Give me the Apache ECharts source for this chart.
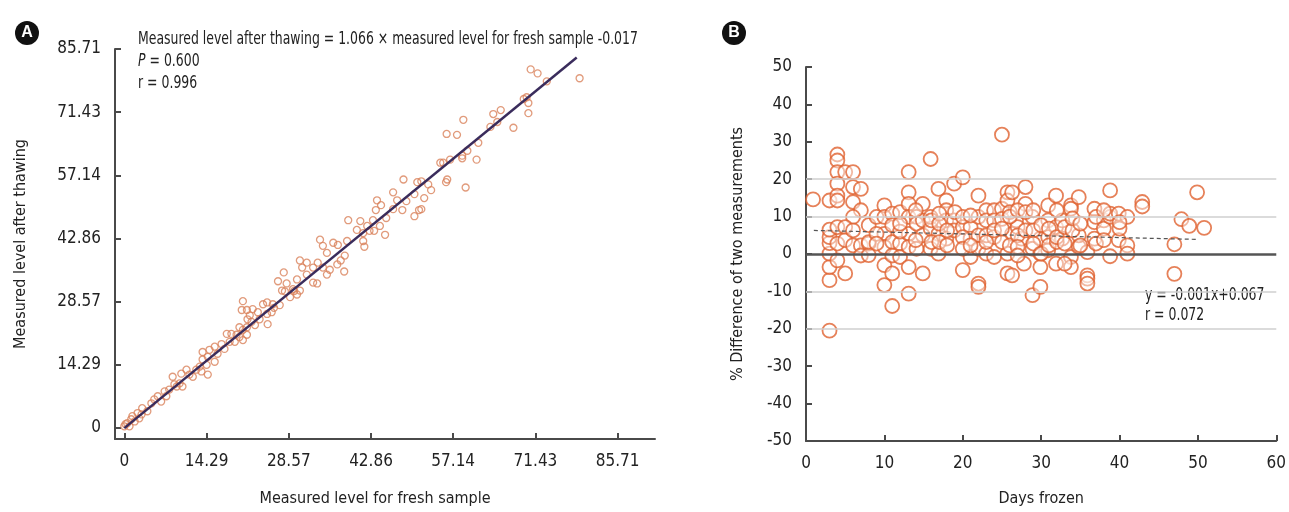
<!DOCTYPE html>
<html><head><meta charset="utf-8">
<script src="https://cdn.jsdelivr.net/npm/echarts@6/dist/echarts.min.js"></script>
<style>html,body{margin:0;padding:0;background:#fff}#c{width:1289px;height:512px}</style>
</head><body><div id="c"></div>
<script>
// Panel A: measured level for fresh sample (x) vs after thawing (y)
const aFresh = [70.6,71.8,73.4,79.1,69.9,69.4,70.2,70.2,65.4,64.1,64.8,63.6,67.6,58.9,56.0,57.8,
61.5,59.6,58.7,61.2,56.6,54.9,55.4,58.7,56.1,55.9,59.3,48.5,50.9,51.6,52.8,53.3,46.7,50.4,52.1,47.4,49.0,43.9,44.6,43.7,46.7,48.3,51.6,51.2,50.4,45.5,38.9,41.0,43.2,40.4,42.2,41.5,44.4,43.4,45.3,42.6,41.5,41.7,38.7,34.0,34.5,36.3,37.1,35.2,38.3,37.6,38.2,35.7,37.0,30.5,31.7,30.9,33.6,35.2,34.5,32.8,27.7,26.7,28.2,33.5,32.8,30.0,31.7,27.4,30.5,29.3,
20.6,20.4,21.3,22.3,24.1,24.8,25.8,23.2,24.8,24.9,21.4,22.1,22.7,21.3,20.6,20.0,19.5,18.6,17.8,19.2,20.6,21.3,20.0,16.9,17.4,15.7,14.8,13.6,13.6,14.5,14.3,15.7,14.5,13.1,12.5,10.8,11.3,9.9,8.4,9.6,10.1,8.7,7.8,7.0,5.8,5.2,4.7,3.1,4.0,2.3,1.4,1.2,0.5,0.0,0.9,3.0,6.4,7.3,9.1,11.9,13.4,16.2,18.3,21.8,23.5,25.6,27.0,27.9,28.8,30.0,26.0,29.5,0.2,1.8,2.6];
const aThawed = [81.1,80.2,78.4,79.1,74.8,74.4,73.5,71.2,71.9,71.0,69.2,68.1,67.9,69.7,66.5,66.3,
64.5,62.7,61.6,60.7,60.7,60.0,60.0,61.0,56.2,55.6,54.4,56.2,55.6,55.8,55.1,53.8,53.3,52.9,52.0,51.5,51.3,51.5,50.4,49.3,49.5,49.3,49.5,49.3,47.9,47.5,47.0,46.8,47.0,44.8,45.7,44.1,45.7,44.6,43.7,44.6,42.3,41.0,42.3,42.6,41.2,41.9,41.4,39.6,39.0,37.9,35.4,35.8,37.0,37.9,37.4,36.3,37.4,34.7,36.3,36.3,35.2,33.2,32.7,32.7,32.9,33.6,34.7,31.1,31.1,31.4,
28.7,26.7,26.7,26.9,28.0,28.4,28.0,26.2,25.8,23.5,24.6,24.0,23.3,22.8,22.2,22.8,21.1,21.3,21.3,19.5,19.9,21.1,20.6,19.0,17.9,18.4,17.7,17.2,15.5,16.1,14.3,15.0,12.1,13.9,13.2,13.2,12.1,12.3,11.6,10.1,9.4,9.9,8.7,8.3,7.2,6.5,5.6,4.5,3.8,3.4,2.7,2.0,1.1,0.4,0.4,3.1,6.0,7.2,9.4,11.6,12.8,16.8,19.5,25.5,24.6,26.2,27.8,30.9,29.6,30.2,27.2,31.0,0.9,1.5,2.2];
const aFitX = [0, 78.6];
const aFitY = [-0.017, 83.77];
const aTicks = [0, 14.29, 28.57, 42.86, 57.14, 71.43, 85.71];

// Panel B: days frozen vs % difference of two measurements
const bDays = [0.9,3,3,3,3,3,3,3,3,4,4,4,4,4,4,4,4,4,5,6,6,7,6,7,6,5,5,5,6,6,7,7,8,8,8,9,10,10,10,10,10,10,11,11,11,11,11,11,12,12,12,
13.1,13.1,13.1,13.1,13.1,13.1,13.1,13.1,14.1,14.1,14.1,14.9,14.9,14.9,14.9,15.9,15.9,15.9,15.9,16.9,16.9,16.9,17.9,17.9,17.9,17.9,18.9,18.9,18.9,20,20,20,21,21,21,22,22,22,22,22,22,23,23,23,23,24,24,24,24,25,25,25,25.7,25.7,25.7,25.7,
28,28,28.9,28.9,28.9,29.9,27.8,26.3,26.3,26.3,26.8,27,27.5,29.9,29.9,29.9,30.9,30.9,30.9,30.9,31.9,31.9,31.9,32.7,32.7,33.8,33.8,33.8,33.8,34.8,34.8,34.8,35.9,35.9,35.9,35.9,36.8,36.8,36.8,38,38,38.8,38.8,38.8,38.8,
39.9,39.9,41,41,41,42.9,42.9,49.9,47.9,48.9,50.8,47,47,
8,9,9,12,12,14,14,16,16,17,17,17,18,18,19,20,20,20,21,21,23,24,25,25,26,26,26,27,27,27,27,28,28,29,29,29,30,30,31,31,32,32,32,33,33,33,34,34,35,35,37,37,38,38,40,40];
const bDiff = [14.6,-20.5,-7.0,-3.5,0.1,2.9,4.5,6.5,14.3,26.6,25.0,21.9,18.8,15.6,14.3,7.2,2.8,-1.7,21.9,21.9,17.9,17.4,13.9,11.7,9.9,7.2,3.7,-5.2,6.3,2.3,2.3,-0.4,7.7,2.8,-0.3,9.9,13.0,9.9,5.4,1.9,-3.0,-8.3,10.8,7.7,3.2,-0.4,-5.2,-13.9,11.2,2.8,-0.8,
21.9,16.5,13.4,9.9,5.4,1.9,-3.5,-10.6,9.9,8.1,1.4,13.4,-5.2,9.0,5.0,6.8,1.4,25.4,9.9,17.4,0.1,5.4,14.3,11.7,9.0,4.1,18.8,9.0,6.3,20.5,7.2,-4.3,7.2,4.1,-0.8,15.6,9.9,5.0,1.4,-7.9,-8.8,11.7,9.0,5.0,0.1,11.7,9.0,4.5,-0.8,31.9,12.1,9.4,16.5,14.3,0.1,-5.2,
17.9,13.4,9.9,1.4,-11.0,-8.8,-2.6,-5.7,16.5,5.4,9.0,7.2,4.1,4.1,0.1,-3.5,13.0,9.0,4.5,1.0,15.6,7.2,-2.6,9.0,4.1,13.0,12.1,-0.8,-3.5,15.2,1.9,5.0,-5.7,-6.6,-7.9,0.5,12.1,8.5,4.1,9.0,6.8,17.0,9.9,-0.6,10.8,
10.8,3.7,9.9,2.3,0.1,13.9,12.7,16.5,9.3,7.5,7.0,2.6,-5.3,
3.2,5.4,2.8,6.0,8.1,11.7,3.7,9.0,3.2,10.8,3.2,8.1,6.3,2.3,11.2,9.9,4.5,1.4,10.3,2.3,3.2,6.3,3.2,6.8,11.2,2.3,10.0,11.7,5.0,1.9,-0.4,6.3,11.2,6.3,2.8,11.7,0.1,7.7,2.3,6.8,11.7,3.2,4.5,7.2,2.8,-2.6,6.3,9.5,2.3,8.1,2.8,9.9,11.7,3.7,6.8,8.5];
const bFitX = [1, 50];
const bFitY = [6.3, 3.9];
const bGrid = [20, 10, -10, -20];

const FONT = "'Liberation Sans Narrow','DejaVu Sans Condensed','Roboto Condensed','Liberation Sans',sans-serif";
const AX = '#4a4a4a';
const zip = (a, b) => a.map((v, i) => [v, b[i]]);

const chart = echarts.init(document.getElementById('c'), null, {renderer: 'canvas'});
const axLine = {show: true, onZero: false, lineStyle: {color: AX, width: 2}};
const tickIn = {show: true, inside: true, length: 6, lineStyle: {color: AX, width: 2}};
const lbl = {color: '#222', fontSize: 17, fontFamily: FONT};
const nameStyle = {color: '#222', fontSize: 16, fontFamily: FONT};
const SX = 0.77;
const txt = (x, y, text, extra) => Object.assign({type: 'text', x: x, y: y, scaleX: SX, originX: 0, originY: 0,
  style: {text: text, fill: '#222', font: "18px " + FONT, align: 'left', verticalAlign: 'top'}}, extra || {});

chart.setOption({
  animation: false,
  grid: [
    {left: 115, right: 634, top: 49, bottom: 70},
    {left: 806, right: 11, top: 67, bottom: 70}
  ],
  xAxis: [
    {gridIndex: 0, type: 'value', min: -1.62, max: 92.2, axisLine: axLine,
     axisTick: Object.assign({}, tickIn, {customValues: aTicks}),
     axisLabel: Object.assign({}, lbl, {customValues: aTicks, margin: 14, formatter: v => v === 0 ? '0' : v.toFixed(2)}),
     splitLine: {show: false},
     name: 'Measured level for fresh sample', nameLocation: 'middle', nameGap: 52,
     nameTextStyle: Object.assign({}, nameStyle, {padding: [0, 20, 0, 0]})},
    {gridIndex: 1, type: 'value', min: 0, max: 60, interval: 10, axisLine: axLine,
     axisTick: tickIn, axisLabel: Object.assign({}, lbl, {margin: 14}),
     splitLine: {show: false},
     name: 'Days frozen', nameLocation: 'middle', nameGap: 50, nameTextStyle: nameStyle}
  ],
  yAxis: [
    {gridIndex: 0, type: 'value', min: -2.47, max: 85.71, axisLine: axLine,
     axisTick: Object.assign({}, tickIn, {customValues: aTicks}),
     axisLabel: Object.assign({}, lbl, {customValues: aTicks, margin: 14, formatter: v => v === 0 ? '0' : v.toFixed(2)}),
     splitLine: {show: false},
     name: 'Measured level after thawing', nameLocation: 'middle', nameGap: 86, nameTextStyle: nameStyle},
    {gridIndex: 1, type: 'value', min: -50, max: 50, interval: 10, axisLine: axLine,
     axisTick: tickIn, axisLabel: Object.assign({}, lbl, {margin: 14}),
     splitLine: {show: false},
     name: '% Difference of two measurements', nameLocation: 'middle', nameGap: 60, nameTextStyle: nameStyle}
  ],
  series: [
    {type: 'scatter', xAxisIndex: 0, yAxisIndex: 0, data: zip(aFresh, aThawed),
     symbol: 'circle', symbolSize: 7,
     itemStyle: {color: 'rgba(255,255,255,0)', borderColor: '#d9825b', borderWidth: 1.3}, z: 2},
    {type: 'line', xAxisIndex: 0, yAxisIndex: 0, data: zip(aFitX, aFitY), symbol: 'none',
     lineStyle: {color: '#3a2c5c', width: 2.5}, z: 3},
    {type: 'line', xAxisIndex: 1, yAxisIndex: 1, data: [], symbol: 'none',
     markLine: {silent: true, symbol: 'none', label: {show: false},
       lineStyle: {color: '#cfcfcf', width: 1.5, type: 'solid'},
       data: bGrid.map(v => ({yAxis: v}))}, z: 1},
    {type: 'line', xAxisIndex: 1, yAxisIndex: 1, data: [], symbol: 'none',
     markLine: {silent: true, symbol: 'none', label: {show: false},
       lineStyle: {color: '#555', width: 2.5, type: 'solid'},
       data: [{yAxis: 0}]}, z: 1},
    {type: 'scatter', xAxisIndex: 1, yAxisIndex: 1, data: zip(bDays, bDiff),
     symbol: 'circle', symbolSize: 14,
     itemStyle: {color: 'rgba(255,255,255,0.55)', borderColor: '#e0622f', borderWidth: 1.8}, z: 2},
    {type: 'line', xAxisIndex: 1, yAxisIndex: 1, data: zip(bFitX, bFitY), symbol: 'none',
     lineStyle: {color: '#555', width: 1.2, type: [4, 3]}, z: 3}
  ],
  graphic: [
    {type: 'circle', shape: {cx: 27, cy: 33, r: 12}, style: {fill: '#111'}},
    {type: 'text', x: 27, y: 33, style: {text: 'A', fill: '#fff', font: "bold 16px 'Liberation Sans',sans-serif", align: 'center', verticalAlign: 'middle'}},
    {type: 'circle', shape: {cx: 734, cy: 33, r: 12}, style: {fill: '#111'}},
    {type: 'text', x: 734, y: 33, style: {text: 'B', fill: '#fff', font: "bold 16px 'Liberation Sans',sans-serif", align: 'center', verticalAlign: 'middle'}},
    txt(138, 30, 'Measured level after thawing = 1.066 × measured level for fresh sample -0.017'),
    {type: 'text', x: 138, y: 52, scaleX: SX, originX: 0, originY: 0,
     style: {text: '{i|P} = 0.600', fill: '#222', font: "18px " + FONT, align: 'left', verticalAlign: 'top',
      rich: {i: {fontStyle: 'italic', fontSize: 18, fontFamily: FONT, fill: '#222'}}}},
    txt(138, 74, 'r = 0.996'),
    txt(1145, 286, 'y = -0.001x+0.067'),
    txt(1145, 306, 'r = 0.072')
  ]
});
</script></body></html>
